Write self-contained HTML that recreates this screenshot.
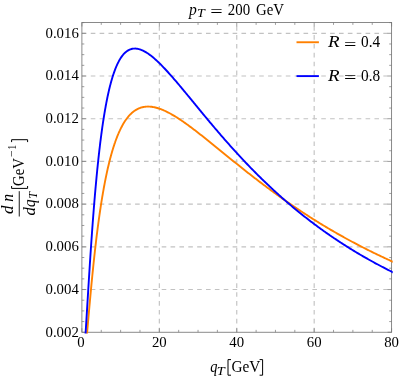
<!DOCTYPE html><html><head><meta charset="utf-8"><style>html,body{margin:0;padding:0;background:#fff}svg{display:block}text{font-family:"Liberation Serif",serif;fill:#000}#w{width:399px;height:379px;will-change:transform;transform:translateZ(0)}</style></head><body><div id="w">
<svg width="399" height="379" viewBox="0 0 399 379">
<rect width="399" height="379" fill="#fff"/>
<defs><clipPath id="c"><rect x="81.4" y="22.0" width="311.30000000000007" height="311.45"/></clipPath></defs>
<g stroke="#c2c2c2" stroke-width="1.15" fill="none" stroke-dasharray="4.6 4.265">
<path d="M159.33,332.25 V22.5"/>
<path d="M236.75,332.25 V22.5"/>
<path d="M314.18,332.25 V22.5"/>
<path d="M81.9,289.54 H391.6"/>
<path d="M81.9,246.84 H391.6"/>
<path d="M81.9,204.13 H391.6"/>
<path d="M81.9,161.42 H391.6"/>
<path d="M81.9,118.71 H391.6"/>
<path d="M81.9,76.01 H391.6"/>
<path d="M81.9,33.30 H391.6"/>
</g>
<path d="M81.90,332.25 v-4.0 M81.90,22.5 v4.0 M101.26,332.25 v-2.4 M101.26,22.5 v2.4 M120.61,332.25 v-2.4 M120.61,22.5 v2.4 M139.97,332.25 v-2.4 M139.97,22.5 v2.4 M159.33,332.25 v-4.0 M159.33,22.5 v4.0 M178.68,332.25 v-2.4 M178.68,22.5 v2.4 M198.04,332.25 v-2.4 M198.04,22.5 v2.4 M217.39,332.25 v-2.4 M217.39,22.5 v2.4 M236.75,332.25 v-4.0 M236.75,22.5 v4.0 M256.11,332.25 v-2.4 M256.11,22.5 v2.4 M275.46,332.25 v-2.4 M275.46,22.5 v2.4 M294.82,332.25 v-2.4 M294.82,22.5 v2.4 M314.18,332.25 v-4.0 M314.18,22.5 v4.0 M333.53,332.25 v-2.4 M333.53,22.5 v2.4 M352.89,332.25 v-2.4 M352.89,22.5 v2.4 M372.24,332.25 v-2.4 M372.24,22.5 v2.4 M391.60,332.25 v-4.0 M391.60,22.5 v4.0 M81.9,332.25 h4.0 M391.6,332.25 h-4.0 M81.9,321.57 h2.4 M391.6,321.57 h-2.4 M81.9,310.90 h2.4 M391.6,310.90 h-2.4 M81.9,300.22 h2.4 M391.6,300.22 h-2.4 M81.9,289.54 h4.0 M391.6,289.54 h-4.0 M81.9,278.87 h2.4 M391.6,278.87 h-2.4 M81.9,268.19 h2.4 M391.6,268.19 h-2.4 M81.9,257.51 h2.4 M391.6,257.51 h-2.4 M81.9,246.84 h4.0 M391.6,246.84 h-4.0 M81.9,236.16 h2.4 M391.6,236.16 h-2.4 M81.9,225.48 h2.4 M391.6,225.48 h-2.4 M81.9,214.81 h2.4 M391.6,214.81 h-2.4 M81.9,204.13 h4.0 M391.6,204.13 h-4.0 M81.9,193.45 h2.4 M391.6,193.45 h-2.4 M81.9,182.77 h2.4 M391.6,182.77 h-2.4 M81.9,172.10 h2.4 M391.6,172.10 h-2.4 M81.9,161.42 h4.0 M391.6,161.42 h-4.0 M81.9,150.74 h2.4 M391.6,150.74 h-2.4 M81.9,140.07 h2.4 M391.6,140.07 h-2.4 M81.9,129.39 h2.4 M391.6,129.39 h-2.4 M81.9,118.71 h4.0 M391.6,118.71 h-4.0 M81.9,108.04 h2.4 M391.6,108.04 h-2.4 M81.9,97.36 h2.4 M391.6,97.36 h-2.4 M81.9,86.68 h2.4 M391.6,86.68 h-2.4 M81.9,76.01 h4.0 M391.6,76.01 h-4.0 M81.9,65.33 h2.4 M391.6,65.33 h-2.4 M81.9,54.65 h2.4 M391.6,54.65 h-2.4 M81.9,43.98 h2.4 M391.6,43.98 h-2.4 M81.9,33.30 h4.0 M391.6,33.30 h-4.0 M81.9,22.62 h2.4 M391.6,22.62 h-2.4" stroke="#757575" stroke-width="0.7" fill="none"/>
<rect x="81.9" y="22.5" width="309.70000000000005" height="309.75" fill="none" stroke="#757575" stroke-width="0.85"/>
<g clip-path="url(#c)" fill="none" stroke-width="1.9" stroke-linejoin="round">
<path stroke="#ff8000" d="M83.93,365.39 L84.11,363.88 L84.29,362.30 L84.48,360.65 L84.66,358.94 L84.84,357.17 L85.03,355.36 L85.21,353.50 L85.39,351.60 L85.58,349.67 L85.76,347.71 L85.94,345.72 L86.13,343.71 L86.31,341.69 L86.49,339.64 L86.68,337.59 L86.86,335.52 L87.04,333.44 L87.23,331.36 L87.41,329.27 L87.59,327.18 L87.78,325.09 L87.96,322.99 L88.14,320.90 L88.32,318.82 L88.51,316.74 L88.69,314.66 L88.87,312.59 L89.06,310.52 L89.24,308.47 L89.42,306.42 L89.61,304.38 L89.79,302.36 L89.97,300.34 L90.16,298.33 L90.34,296.34 L90.52,294.36 L90.71,292.39 L90.89,290.43 L91.07,288.49 L91.26,286.56 L91.44,284.64 L91.62,282.74 L91.81,280.85 L91.99,278.97 L92.17,277.11 L92.36,275.27 L92.54,273.44 L92.72,271.62 L92.91,269.82 L93.09,268.04 L93.27,266.26 L93.46,264.51 L93.64,262.77 L93.82,261.04 L94.01,259.33 L94.19,257.63 L94.37,255.95 L94.55,254.29 L94.74,252.64 L94.92,251.00 L95.10,249.38 L95.29,247.78 L95.47,246.18 L95.65,244.61 L95.84,243.05 L96.02,241.50 L96.20,239.97 L96.39,238.45 L96.57,236.95 L96.75,235.46 L96.94,233.98 L97.12,232.52 L97.30,231.08 L97.49,229.64 L97.67,228.22 L97.85,226.82 L98.04,225.43 L98.22,224.05 L98.40,222.69 L98.59,221.34 L98.77,220.00 L98.95,218.67 L99.14,217.36 L99.32,216.06 L99.50,214.78 L99.69,213.51 L99.87,212.25 L100.05,211.00 L100.23,209.76 L100.42,208.54 L100.60,207.33 L100.78,206.13 L100.97,204.95 L101.15,203.77 L101.33,202.61 L101.52,201.46 L101.70,200.32 L101.88,199.19 L102.07,198.08 L102.25,196.97 L102.43,195.88 L102.62,194.80 L102.80,193.72 L102.98,192.66 L103.17,191.61 L103.35,190.57 L103.53,189.55 L103.72,188.53 L103.90,187.52 L104.08,186.52 L104.27,185.53 L104.45,184.56 L104.63,183.59 L104.82,182.63 L105.00,181.69 L105.18,180.75 L105.37,179.82 L105.55,178.90 L105.73,177.99 L105.91,177.09 L106.10,176.20 L106.28,175.32 L106.46,174.45 L106.65,173.59 L106.83,172.73 L107.01,171.89 L107.20,171.05 L107.38,170.22 L107.56,169.40 L107.75,168.59 L107.93,167.79 L108.11,167.00 L108.30,166.21 L108.48,165.43 L108.66,164.66 L108.85,163.90 L109.03,163.15 L109.21,162.40 L109.40,161.67 L109.58,160.94 L109.76,160.22 L109.95,159.50 L110.13,158.79 L110.31,158.09 L110.50,157.40 L110.68,156.72 L110.86,156.04 L111.05,155.37 L111.23,154.71 L111.41,154.05 L111.60,153.40 L111.78,152.76 L111.96,152.12 L112.14,151.49 L112.33,150.87 L112.51,150.26 L112.69,149.65 L112.88,149.05 L113.06,148.45 L113.24,147.86 L113.43,147.28 L113.61,146.70 L113.79,146.13 L113.98,145.57 L114.16,145.01 L114.34,144.46 L114.53,143.91 L114.71,143.37 L114.89,142.83 L115.08,142.31 L115.26,141.78 L115.44,141.27 L115.63,140.76 L115.81,140.25 L115.99,139.75 L116.18,139.26 L116.36,138.77 L116.54,138.28 L116.73,137.80 L116.91,137.33 L117.09,136.86 L117.28,136.40 L117.46,135.94 L117.64,135.49 L117.82,135.04 L118.01,134.60 L118.19,134.17 L118.37,133.73 L118.56,133.31 L118.74,132.88 L118.92,132.47 L119.11,132.05 L119.29,131.65 L119.47,131.24 L119.66,130.85 L119.84,130.45 L120.02,130.06 L120.21,129.68 L120.39,129.30 L121.31,127.45 L122.23,125.71 L123.15,124.08 L124.07,122.54 L125.00,121.10 L125.92,119.74 L126.84,118.48 L127.76,117.29 L128.68,116.19 L129.60,115.16 L130.52,114.21 L131.44,113.32 L132.36,112.50 L133.29,111.74 L134.21,111.05 L135.13,110.41 L136.05,109.84 L136.97,109.31 L137.89,108.84 L138.81,108.42 L139.73,108.05 L140.65,107.72 L141.58,107.44 L142.50,107.20 L143.42,107.00 L144.34,106.84 L145.26,106.71 L146.18,106.63 L147.10,106.58 L148.02,106.56 L148.94,106.58 L149.87,106.62 L150.79,106.70 L151.71,106.80 L152.63,106.94 L153.55,107.10 L154.47,107.28 L155.39,107.49 L156.31,107.72 L157.23,107.98 L158.16,108.26 L159.08,108.56 L160.00,108.88 L160.92,109.21 L161.84,109.57 L162.76,109.95 L163.68,110.34 L164.60,110.75 L165.52,111.17 L166.45,111.61 L167.37,112.07 L168.29,112.54 L169.21,113.02 L170.13,113.52 L171.05,114.03 L171.97,114.55 L172.89,115.08 L173.81,115.62 L174.73,116.18 L175.66,116.74 L176.58,117.32 L177.50,117.90 L178.42,118.50 L179.34,119.10 L180.26,119.71 L181.18,120.33 L182.10,120.95 L183.02,121.58 L183.95,122.22 L184.87,122.87 L185.79,123.52 L186.71,124.18 L187.63,124.85 L188.55,125.52 L189.47,126.20 L190.39,126.88 L191.31,127.56 L192.24,128.25 L193.16,128.95 L194.08,129.65 L195.00,130.35 L195.92,131.06 L196.84,131.77 L197.76,132.48 L198.68,133.20 L199.60,133.92 L200.53,134.64 L201.45,135.36 L202.37,136.09 L203.29,136.82 L204.21,137.55 L205.13,138.29 L206.05,139.02 L206.97,139.76 L207.89,140.50 L208.82,141.24 L209.74,141.98 L210.66,142.72 L211.58,143.47 L212.50,144.21 L213.42,144.96 L214.34,145.71 L215.26,146.45 L216.18,147.20 L217.11,147.95 L218.03,148.70 L218.95,149.45 L219.87,150.20 L220.79,150.94 L221.71,151.69 L222.63,152.44 L223.55,153.19 L224.47,153.94 L225.40,154.69 L226.32,155.44 L227.24,156.18 L228.16,156.93 L229.08,157.68 L230.00,158.42 L230.92,159.17 L231.84,159.91 L232.76,160.66 L233.69,161.40 L234.61,162.14 L235.53,162.88 L236.45,163.62 L237.37,164.36 L238.29,165.10 L239.21,165.84 L240.13,166.57 L241.05,167.31 L241.98,168.04 L242.90,168.77 L243.82,169.50 L244.74,170.23 L245.66,170.96 L246.58,171.68 L247.50,172.41 L248.42,173.13 L249.34,173.85 L250.27,174.57 L251.19,175.29 L252.11,176.01 L253.03,176.72 L253.95,177.43 L254.87,178.15 L255.79,178.86 L256.71,179.56 L257.63,180.27 L258.56,180.97 L259.48,181.68 L260.40,182.38 L261.32,183.08 L262.24,183.77 L263.16,184.47 L264.08,185.16 L265.00,185.85 L265.92,186.54 L266.84,187.23 L267.77,187.92 L268.69,188.60 L269.61,189.28 L270.53,189.96 L271.45,190.64 L272.37,191.31 L273.29,191.99 L274.21,192.66 L275.13,193.33 L276.06,193.99 L276.98,194.66 L277.90,195.32 L278.82,195.98 L279.74,196.64 L280.66,197.30 L281.58,197.95 L282.50,198.61 L283.42,199.26 L284.35,199.91 L285.27,200.55 L286.19,201.20 L287.11,201.84 L288.03,202.48 L288.95,203.11 L289.87,203.75 L290.79,204.38 L291.71,205.01 L292.64,205.64 L293.56,206.27 L294.48,206.90 L295.40,207.52 L296.32,208.14 L297.24,208.76 L298.16,209.37 L299.08,209.99 L300.00,210.60 L300.93,211.21 L301.85,211.81 L302.77,212.42 L303.69,213.02 L304.61,213.62 L305.53,214.22 L306.45,214.82 L307.37,215.41 L308.29,216.01 L309.22,216.60 L310.14,217.18 L311.06,217.77 L311.98,218.35 L312.90,218.93 L313.82,219.51 L314.74,220.09 L315.66,220.67 L316.58,221.24 L317.51,221.81 L318.43,222.38 L319.35,222.95 L320.27,223.51 L321.19,224.07 L322.11,224.63 L323.03,225.19 L323.95,225.75 L324.87,226.30 L325.80,226.85 L326.72,227.40 L327.64,227.95 L328.56,228.50 L329.48,229.04 L330.40,229.58 L331.32,230.12 L332.24,230.66 L333.16,231.19 L334.09,231.73 L335.01,232.26 L335.93,232.79 L336.85,233.31 L337.77,233.84 L338.69,234.36 L339.61,234.88 L340.53,235.40 L341.45,235.92 L342.38,236.43 L343.30,236.95 L344.22,237.46 L345.14,237.97 L346.06,238.47 L346.98,238.98 L347.90,239.48 L348.82,239.98 L349.74,240.48 L350.67,240.98 L351.59,241.47 L352.51,241.97 L353.43,242.46 L354.35,242.95 L355.27,243.44 L356.19,243.92 L357.11,244.40 L358.03,244.89 L358.95,245.37 L359.88,245.84 L360.80,246.32 L361.72,246.79 L362.64,247.27 L363.56,247.74 L364.48,248.21 L365.40,248.67 L366.32,249.14 L367.24,249.60 L368.17,250.06 L369.09,250.52 L370.01,250.98 L370.93,251.43 L371.85,251.89 L372.77,252.34 L373.69,252.79 L374.61,253.24 L375.53,253.69 L376.46,254.13 L377.38,254.57 L378.30,255.02 L379.22,255.46 L380.14,255.89 L381.06,256.33 L381.98,256.76 L382.90,257.20 L383.82,257.63 L384.75,258.06 L385.67,258.49 L386.59,258.91 L387.51,259.34 L388.43,259.76 L389.35,260.18 L390.27,260.60 L391.19,261.02 L392.11,261.43 L393.04,261.85 L393.96,262.26 L394.88,262.67 L395.80,263.08"/>
<path stroke="#0000ff" d="M83.93,356.37 L84.11,354.13 L84.29,351.79 L84.48,349.35 L84.66,346.84 L84.84,344.24 L85.03,341.58 L85.21,338.86 L85.39,336.08 L85.58,333.26 L85.76,330.40 L85.94,327.51 L86.13,324.58 L86.31,321.63 L86.49,318.66 L86.68,315.68 L86.86,312.68 L87.04,309.67 L87.23,306.66 L87.41,303.64 L87.59,300.63 L87.78,297.62 L87.96,294.62 L88.14,291.62 L88.32,288.63 L88.51,285.65 L88.69,282.69 L88.87,279.74 L89.06,276.80 L89.24,273.89 L89.42,270.99 L89.61,268.11 L89.79,265.25 L89.97,262.41 L90.16,259.60 L90.34,256.80 L90.52,254.03 L90.71,251.29 L90.89,248.56 L91.07,245.86 L91.26,243.19 L91.44,240.54 L91.62,237.92 L91.81,235.32 L91.99,232.75 L92.17,230.21 L92.36,227.69 L92.54,225.20 L92.72,222.73 L92.91,220.29 L93.09,217.88 L93.27,215.49 L93.46,213.13 L93.64,210.79 L93.82,208.48 L94.01,206.20 L94.19,203.95 L94.37,201.72 L94.55,199.51 L94.74,197.33 L94.92,195.18 L95.10,193.05 L95.29,190.95 L95.47,188.87 L95.65,186.82 L95.84,184.79 L96.02,182.79 L96.20,180.81 L96.39,178.85 L96.57,176.92 L96.75,175.01 L96.94,173.13 L97.12,171.27 L97.30,169.43 L97.49,167.61 L97.67,165.82 L97.85,164.05 L98.04,162.30 L98.22,160.58 L98.40,158.87 L98.59,157.19 L98.77,155.53 L98.95,153.89 L99.14,152.27 L99.32,150.67 L99.50,149.09 L99.69,147.53 L99.87,145.99 L100.05,144.47 L100.23,142.97 L100.42,141.49 L100.60,140.03 L100.78,138.59 L100.97,137.17 L101.15,135.76 L101.33,134.37 L101.52,133.00 L101.70,131.65 L101.88,130.32 L102.07,129.00 L102.25,127.70 L102.43,126.42 L102.62,125.16 L102.80,123.91 L102.98,122.68 L103.17,121.46 L103.35,120.26 L103.53,119.08 L103.72,117.91 L103.90,116.75 L104.08,115.62 L104.27,114.49 L104.45,113.39 L104.63,112.29 L104.82,111.22 L105.00,110.15 L105.18,109.10 L105.37,108.07 L105.55,107.05 L105.73,106.04 L105.91,105.04 L106.10,104.06 L106.28,103.09 L106.46,102.14 L106.65,101.20 L106.83,100.27 L107.01,99.35 L107.20,98.45 L107.38,97.56 L107.56,96.68 L107.75,95.81 L107.93,94.96 L108.11,94.12 L108.30,93.28 L108.48,92.46 L108.66,91.66 L108.85,90.86 L109.03,90.07 L109.21,89.30 L109.40,88.53 L109.58,87.78 L109.76,87.04 L109.95,86.30 L110.13,85.58 L110.31,84.87 L110.50,84.17 L110.68,83.48 L110.86,82.79 L111.05,82.12 L111.23,81.46 L111.41,80.81 L111.60,80.16 L111.78,79.53 L111.96,78.90 L112.14,78.29 L112.33,77.68 L112.51,77.08 L112.69,76.49 L112.88,75.91 L113.06,75.34 L113.24,74.78 L113.43,74.22 L113.61,73.68 L113.79,73.14 L113.98,72.61 L114.16,72.09 L114.34,71.57 L114.53,71.07 L114.71,70.57 L114.89,70.08 L115.08,69.60 L115.26,69.12 L115.44,68.65 L115.63,68.19 L115.81,67.74 L115.99,67.29 L116.18,66.85 L116.36,66.42 L116.54,66.00 L116.73,65.58 L116.91,65.17 L117.09,64.76 L117.28,64.36 L117.46,63.97 L117.64,63.59 L117.82,63.21 L118.01,62.84 L118.19,62.47 L118.37,62.11 L118.56,61.76 L118.74,61.41 L118.92,61.07 L119.11,60.73 L119.29,60.40 L119.47,60.08 L119.66,59.76 L119.84,59.45 L120.02,59.14 L120.21,58.84 L120.39,58.55 L121.31,57.14 L122.23,55.87 L123.15,54.72 L124.07,53.69 L125.00,52.77 L125.92,51.95 L126.84,51.24 L127.76,50.62 L128.68,50.09 L129.60,49.65 L130.52,49.29 L131.44,49.01 L132.36,48.80 L133.29,48.66 L134.21,48.58 L135.13,48.57 L136.05,48.62 L136.97,48.73 L137.89,48.89 L138.81,49.10 L139.73,49.36 L140.65,49.67 L141.58,50.03 L142.50,50.42 L143.42,50.86 L144.34,51.34 L145.26,51.85 L146.18,52.39 L147.10,52.97 L148.02,53.58 L148.94,54.22 L149.87,54.89 L150.79,55.59 L151.71,56.31 L152.63,57.06 L153.55,57.83 L154.47,58.62 L155.39,59.43 L156.31,60.27 L157.23,61.12 L158.16,61.99 L159.08,62.87 L160.00,63.78 L160.92,64.70 L161.84,65.63 L162.76,66.58 L163.68,67.54 L164.60,68.51 L165.52,69.49 L166.45,70.49 L167.37,71.49 L168.29,72.51 L169.21,73.53 L170.13,74.56 L171.05,75.60 L171.97,76.65 L172.89,77.71 L173.81,78.77 L174.73,79.84 L175.66,80.91 L176.58,81.99 L177.50,83.08 L178.42,84.16 L179.34,85.26 L180.26,86.36 L181.18,87.46 L182.10,88.56 L183.02,89.67 L183.95,90.78 L184.87,91.89 L185.79,93.00 L186.71,94.12 L187.63,95.24 L188.55,96.35 L189.47,97.47 L190.39,98.60 L191.31,99.72 L192.24,100.84 L193.16,101.96 L194.08,103.08 L195.00,104.21 L195.92,105.33 L196.84,106.45 L197.76,107.57 L198.68,108.69 L199.60,109.81 L200.53,110.93 L201.45,112.04 L202.37,113.16 L203.29,114.27 L204.21,115.38 L205.13,116.49 L206.05,117.60 L206.97,118.71 L207.89,119.82 L208.82,120.92 L209.74,122.02 L210.66,123.12 L211.58,124.21 L212.50,125.31 L213.42,126.40 L214.34,127.49 L215.26,128.57 L216.18,129.65 L217.11,130.73 L218.03,131.81 L218.95,132.88 L219.87,133.96 L220.79,135.02 L221.71,136.09 L222.63,137.15 L223.55,138.21 L224.47,139.26 L225.40,140.31 L226.32,141.36 L227.24,142.41 L228.16,143.45 L229.08,144.49 L230.00,145.52 L230.92,146.55 L231.84,147.58 L232.76,148.60 L233.69,149.62 L234.61,150.64 L235.53,151.65 L236.45,152.66 L237.37,153.67 L238.29,154.67 L239.21,155.67 L240.13,156.66 L241.05,157.65 L241.98,158.64 L242.90,159.62 L243.82,160.60 L244.74,161.57 L245.66,162.55 L246.58,163.51 L247.50,164.48 L248.42,165.44 L249.34,166.39 L250.27,167.34 L251.19,168.29 L252.11,169.23 L253.03,170.17 L253.95,171.11 L254.87,172.04 L255.79,172.97 L256.71,173.89 L257.63,174.81 L258.56,175.73 L259.48,176.64 L260.40,177.55 L261.32,178.45 L262.24,179.36 L263.16,180.25 L264.08,181.14 L265.00,182.03 L265.92,182.92 L266.84,183.80 L267.77,184.68 L268.69,185.55 L269.61,186.42 L270.53,187.28 L271.45,188.14 L272.37,189.00 L273.29,189.86 L274.21,190.71 L275.13,191.55 L276.06,192.39 L276.98,193.23 L277.90,194.07 L278.82,194.90 L279.74,195.72 L280.66,196.55 L281.58,197.36 L282.50,198.18 L283.42,198.99 L284.35,199.80 L285.27,200.60 L286.19,201.40 L287.11,202.20 L288.03,202.99 L288.95,203.78 L289.87,204.57 L290.79,205.35 L291.71,206.13 L292.64,206.90 L293.56,207.67 L294.48,208.44 L295.40,209.20 L296.32,209.96 L297.24,210.72 L298.16,211.47 L299.08,212.22 L300.00,212.97 L300.93,213.71 L301.85,214.45 L302.77,215.18 L303.69,215.91 L304.61,216.64 L305.53,217.37 L306.45,218.09 L307.37,218.80 L308.29,219.52 L309.22,220.23 L310.14,220.94 L311.06,221.64 L311.98,222.34 L312.90,223.04 L313.82,223.73 L314.74,224.42 L315.66,225.11 L316.58,225.79 L317.51,226.47 L318.43,227.15 L319.35,227.82 L320.27,228.50 L321.19,229.16 L322.11,229.83 L323.03,230.49 L323.95,231.15 L324.87,231.80 L325.80,232.45 L326.72,233.10 L327.64,233.75 L328.56,234.39 L329.48,235.03 L330.40,235.66 L331.32,236.29 L332.24,236.92 L333.16,237.55 L334.09,238.17 L335.01,238.79 L335.93,239.41 L336.85,240.03 L337.77,240.64 L338.69,241.25 L339.61,241.85 L340.53,242.45 L341.45,243.05 L342.38,243.65 L343.30,244.24 L344.22,244.83 L345.14,245.42 L346.06,246.01 L346.98,246.59 L347.90,247.17 L348.82,247.75 L349.74,248.32 L350.67,248.89 L351.59,249.46 L352.51,250.02 L353.43,250.59 L354.35,251.15 L355.27,251.70 L356.19,252.26 L357.11,252.81 L358.03,253.36 L358.95,253.90 L359.88,254.45 L360.80,254.99 L361.72,255.53 L362.64,256.06 L363.56,256.60 L364.48,257.13 L365.40,257.66 L366.32,258.18 L367.24,258.70 L368.17,259.22 L369.09,259.74 L370.01,260.26 L370.93,260.77 L371.85,261.28 L372.77,261.79 L373.69,262.29 L374.61,262.80 L375.53,263.30 L376.46,263.79 L377.38,264.29 L378.30,264.78 L379.22,265.27 L380.14,265.76 L381.06,266.25 L381.98,266.73 L382.90,267.21 L383.82,267.69 L384.75,268.17 L385.67,268.64 L386.59,269.11 L387.51,269.58 L388.43,270.05 L389.35,270.51 L390.27,270.98 L391.19,271.44 L392.11,271.90 L393.04,272.35 L393.96,272.81 L394.88,273.26 L395.80,273.71"/>
</g>
<g font-size="14.8px">
<text x="81.00" y="346.8" text-anchor="middle">0</text>
<text x="159.33" y="346.8" text-anchor="middle">20</text>
<text x="236.75" y="346.8" text-anchor="middle">40</text>
<text x="314.18" y="346.8" text-anchor="middle">60</text>
<text x="391.60" y="346.8" text-anchor="middle">80</text>
<text x="78.8" y="336.55" text-anchor="end">0.002</text>
<text x="78.8" y="293.84" text-anchor="end">0.004</text>
<text x="78.8" y="251.14" text-anchor="end">0.006</text>
<text x="78.8" y="208.43" text-anchor="end">0.008</text>
<text x="78.8" y="165.72" text-anchor="end">0.010</text>
<text x="78.8" y="123.01" text-anchor="end">0.012</text>
<text x="78.8" y="80.31" text-anchor="end">0.014</text>
<text x="78.8" y="37.60" text-anchor="end">0.016</text>
</g>
<text x="188.9" y="14.8" font-size="16.6px" font-style="italic" textLength="7.8" lengthAdjust="spacingAndGlyphs">p</text>
<text x="197.0" y="17.4" font-size="11.5px" font-style="italic" textLength="7.8" lengthAdjust="spacingAndGlyphs">T</text>
<text x="210.2" y="17.0" font-size="16.6px" textLength="12.4" lengthAdjust="spacingAndGlyphs">=</text>
<text x="227.8" y="14.8" font-size="16.6px" textLength="22.3" lengthAdjust="spacingAndGlyphs">200</text>
<text x="256.0" y="14.8" font-size="16.6px" textLength="28.0" lengthAdjust="spacingAndGlyphs">GeV</text>
<path d="M296.5,42.25 H318.9" stroke="#ff8000" stroke-width="1.9"/>
<path d="M296.5,76.1 H318.9" stroke="#0000ff" stroke-width="1.9"/>
<text x="328.1" y="47.4" font-size="16.6px" font-style="italic" textLength="11.6" lengthAdjust="spacingAndGlyphs">R</text>
<text x="344.1" y="49.6" font-size="16.6px" textLength="12.4" lengthAdjust="spacingAndGlyphs">=</text>
<text x="361.0" y="47.4" font-size="16.6px" textLength="19.1" lengthAdjust="spacingAndGlyphs">0.4</text>
<text x="328.1" y="81.0" font-size="16.6px" font-style="italic" textLength="11.6" lengthAdjust="spacingAndGlyphs">R</text>
<text x="344.1" y="83.2" font-size="16.6px" textLength="12.4" lengthAdjust="spacingAndGlyphs">=</text>
<text x="361.0" y="81.0" font-size="16.6px" textLength="19.1" lengthAdjust="spacingAndGlyphs">0.8</text>
<text x="210.3" y="371.6" font-size="16.6px" font-style="italic" textLength="7.2" lengthAdjust="spacingAndGlyphs">q</text>
<text x="216.7" y="374.5" font-size="11.5px" font-style="italic" textLength="8.0" lengthAdjust="spacingAndGlyphs">T</text>
<path d="M231,359.6 H228 V375.2 H231" fill="none" stroke="#000" stroke-width="1"/>
<text x="231.5" y="371.6" font-size="16.6px" textLength="28.9" lengthAdjust="spacingAndGlyphs">GeV</text>
<path d="M259.6,359.6 H262.6 V375.2 H259.6" fill="none" stroke="#000" stroke-width="1"/>
<g transform="rotate(-90)">
<text x="-214.0" y="13.0" font-size="16.6px" font-style="italic" textLength="8.5" lengthAdjust="spacingAndGlyphs">d</text>
<text x="-201.8" y="13.0" font-size="16.6px" font-style="italic" textLength="7.8" lengthAdjust="spacingAndGlyphs">n</text>
<path d="M-216.5,19.25 H-191.2" stroke="#000" stroke-width="0.9"/>
<text x="-215.5" y="34.5" font-size="16.6px" font-style="italic" textLength="8.3" lengthAdjust="spacingAndGlyphs">d</text>
<text x="-207.0" y="34.5" font-size="16.6px" font-style="italic" textLength="7.5" lengthAdjust="spacingAndGlyphs">q</text>
<text x="-198.5" y="37.4" font-size="11.5px" font-style="italic" textLength="6.5" lengthAdjust="spacingAndGlyphs">T</text>
<path d="M-186.0,11.6 H-188.4 V27.6 H-186.0" fill="none" stroke="#000" stroke-width="1"/>
<text x="-185.9" y="24.4" font-size="16.6px" textLength="27.7" lengthAdjust="spacingAndGlyphs">GeV</text>
<text x="-156.9" y="14.9" font-size="11.5px" textLength="6.6" lengthAdjust="spacingAndGlyphs">−</text>
<text x="-149.6" y="16.4" font-size="11.5px" textLength="4.5" lengthAdjust="spacingAndGlyphs">1</text>
<path d="M-142.1,11.6 H-139.7 V27.6 H-142.1" fill="none" stroke="#000" stroke-width="1"/>
</g>
</svg></div></body></html>
